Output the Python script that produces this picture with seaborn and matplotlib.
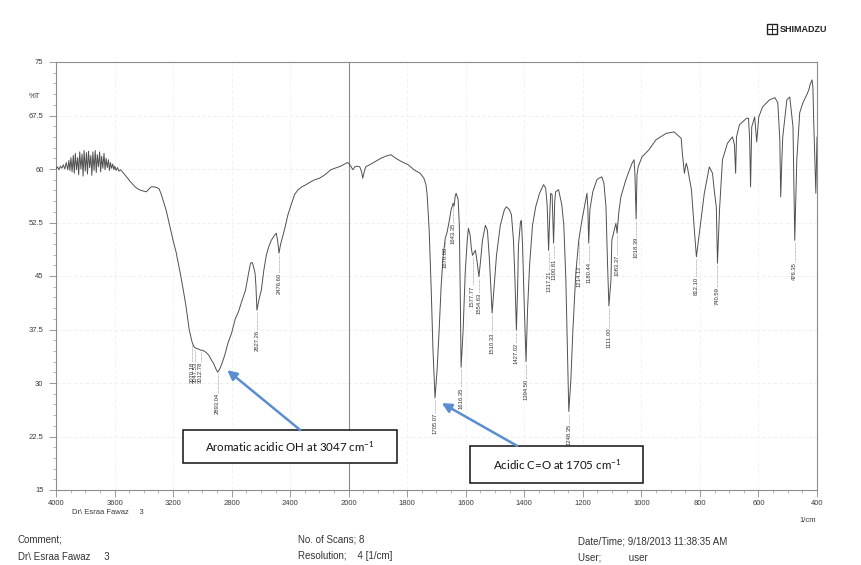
import numpy as np
import pandas as pd
import matplotlib
matplotlib.use("Agg")
import matplotlib.pyplot as plt
import seaborn as sns
from matplotlib.patches import Rectangle
from matplotlib.ticker import FixedLocator, MultipleLocator

# ---------------- data ----------------
wavenumber = [
    4000, 3990, 3980, 3970, 3960, 3950, 3940, 3930, 3920, 3912, 3905, 3898, 3890, 3882,
    3875, 3868, 3860, 3852, 3845, 3838, 3830, 3822, 3815, 3808, 3800, 3792, 3785, 3778,
    3770, 3762, 3755, 3748, 3740, 3732, 3725, 3718, 3710, 3702, 3695, 3688, 3680, 3672,
    3665, 3658, 3650, 3642, 3635, 3628, 3620, 3612, 3605, 3598, 3590, 3580, 3570, 3560,
    3546, 3530, 3510, 3495, 3478, 3460, 3440, 3420, 3400, 3383, 3365, 3349, 3330, 3310,
    3295, 3280, 3265, 3247, 3220, 3200, 3180, 3150, 3130, 3112, 3090, 3071, 3058, 3047,
    3030, 3012, 3003, 2990, 2975, 2956, 2940, 2922, 2908, 2895, 2880, 2865, 2847, 2825,
    2800, 2775, 2753, 2730, 2705, 2685, 2671, 2660, 2651, 2640, 2634, 2627, 2612, 2597,
    2580, 2563, 2545, 2529, 2510, 2495, 2486, 2476, 2466, 2454, 2434, 2415, 2393, 2370,
    2346, 2320, 2292, 2260, 2231, 2200, 2176, 2150, 2122, 2095, 2068, 2045, 2027, 2010,
    2000, 1993, 1986, 1979, 1973, 1962, 1956, 1952, 1947, 1942, 1928, 1911, 1890, 1873,
    1856, 1839, 1818, 1797, 1777, 1756, 1743, 1736, 1732, 1725, 1718, 1712, 1705, 1698,
    1691, 1684, 1677, 1670, 1664, 1657, 1650, 1643, 1640, 1636, 1633, 1626, 1622, 1619,
    1616, 1609, 1602, 1595, 1591, 1585, 1581, 1577, 1567, 1561, 1555, 1550, 1543, 1533,
    1526, 1519, 1510, 1504, 1495, 1482, 1468, 1461, 1451, 1444, 1437, 1432, 1427, 1423,
    1420, 1413, 1410, 1406, 1401, 1394, 1389, 1382, 1372, 1361, 1348, 1334, 1327, 1322,
    1317, 1313, 1310, 1305, 1300, 1296, 1293, 1283, 1272, 1265, 1258, 1252, 1248, 1241,
    1234, 1224, 1214, 1204, 1193, 1186, 1183, 1180, 1176, 1166, 1152, 1145, 1135, 1128,
    1121, 1116, 1111, 1104, 1101, 1087, 1083, 1077, 1070, 1053, 1032, 1025, 1022, 1018,
    1015, 1011, 998, 974, 950, 915, 888, 864, 860, 853, 847, 843, 829, 819,
    812, 802, 785, 768, 757, 750, 744, 740, 733, 723, 706, 689, 682, 678,
    675, 665, 641, 634, 630, 627, 623, 613, 606, 599, 586, 562, 544, 534,
    527, 524, 520, 517, 503, 493, 482, 476, 469, 459, 448, 435, 428, 424,
    417, 414, 411, 404, 400,
]
transmittance = [
    60.0, 60.3, 59.9, 60.4, 60.1, 60.6, 60.0, 60.9, 59.9, 61.2, 59.8, 61.6, 59.6, 61.9,
    59.4, 62.2, 59.9, 61.6, 59.2, 62.4, 60.0, 62.1, 59.0, 62.6, 59.7, 62.3, 59.3, 62.5,
    60.2, 61.9, 59.1, 62.4, 59.8, 62.6, 59.5, 62.0, 60.3, 62.4, 59.6, 61.8, 60.1, 62.2,
    59.9, 61.5, 60.2, 61.3, 59.8, 60.9, 60.1, 60.7, 59.9, 60.4, 59.8, 60.2, 59.7, 59.9,
    59.6, 59.2, 58.7, 58.3, 57.9, 57.5, 57.2, 57.0, 56.9, 56.8, 57.2, 57.5, 57.5, 57.4,
    57.2, 56.4, 55.4, 54.2, 51.8, 50.0, 48.4, 45.3, 43.0, 40.8, 37.5, 35.8, 35.1, 34.9,
    34.8, 34.6, 34.6, 34.5, 34.3, 33.9, 33.3, 32.7, 32.0, 31.5, 32.0, 32.8, 33.9, 35.6,
    37.0, 39.0, 40.0, 41.5, 43.0, 45.3, 46.8, 46.9, 46.4, 45.4, 43.7, 40.2, 41.8, 43.0,
    45.8, 47.9, 49.2, 50.0, 50.6, 51.0, 50.0, 48.2, 49.4, 50.3, 51.9, 53.6, 55.0, 56.4,
    57.1, 57.5, 57.8, 58.2, 58.5, 58.7, 59.0, 59.4, 59.9, 60.1, 60.3, 60.5, 60.7, 60.9,
    60.8, 60.4, 59.9, 60.3, 60.4, 60.3, 59.6, 58.7, 59.6, 60.3, 60.6, 61.0, 61.5, 61.8,
    62.0, 61.5, 61.0, 60.6, 59.9, 59.4, 58.7, 57.8, 56.4, 51.4, 43.0, 34.6, 27.9, 31.8,
    37.4, 43.7, 47.9, 50.3, 51.1, 52.6, 54.3, 55.2, 54.8, 56.2, 56.6, 55.7, 52.1, 43.0,
    32.2, 37.4, 45.4, 50.0, 51.7, 50.7, 48.9, 47.9, 48.6, 46.9, 44.9, 46.9, 50.0, 52.1,
    51.4, 47.2, 39.8, 43.0, 47.9, 52.1, 54.3, 54.7, 54.3, 53.6, 50.0, 44.5, 37.4, 43.0,
    49.3, 52.6, 52.8, 49.3, 42.0, 33.0, 40.2, 46.5, 52.1, 54.7, 56.6, 57.8, 57.3, 55.0,
    48.6, 53.6, 56.6, 56.4, 49.6, 55.5, 56.8, 57.1, 55.0, 52.1, 44.4, 33.2, 26.0, 30.4,
    37.4, 45.4, 50.0, 52.6, 55.0, 56.6, 54.5, 49.6, 54.3, 56.8, 58.5, 58.7, 58.9, 58.0,
    54.7, 47.2, 40.8, 44.4, 50.0, 52.4, 51.0, 54.0, 56.1, 58.5, 60.8, 61.3, 59.2, 53.0,
    59.2, 60.3, 61.7, 62.7, 64.1, 65.0, 65.2, 64.3, 62.2, 59.4, 60.8, 60.3, 57.1, 51.4,
    47.7, 51.0, 56.6, 60.3, 59.4, 56.6, 54.7, 46.8, 54.3, 61.3, 63.6, 64.5, 63.4, 59.4,
    64.5, 66.2, 67.1, 67.1, 64.1, 57.5, 65.9, 67.3, 63.8, 67.3, 68.7, 69.7, 70.0, 69.3,
    64.1, 56.1, 61.3, 64.5, 69.7, 70.1, 65.9, 50.0, 61.3, 67.9, 69.3, 70.4, 71.1, 71.8,
    72.5, 71.5, 66.4, 56.6, 64.5,
]

# peak labels: position, printed value, and the %T where the printed label starts
peak_wavenumber = [3071, 3047, 3012, 2895, 2627, 2476, 1705, 1670, 1643, 1616, 1577,
                   1555, 1510, 1427, 1394, 1317, 1300, 1248, 1214, 1180, 1111, 1083,
                   1018, 812, 740, 476]
peak_T = [35.8, 34.9, 34.6, 31.5, 40.2, 48.2, 27.9, 50.3, 55.2, 32.2, 47.9,
          44.9, 39.8, 37.4, 33.0, 48.6, 49.6, 26.0, 50.0, 49.6, 40.8, 51.0,
          53.0, 47.7, 46.8, 50.0]
peak_text = ["3070.18", "3047.53", "3012.78", "2893.04", "2627.26", "2476.60",
             "1705.07", "1670.68", "1643.35", "1616.35", "1577.77", "1554.63",
             "1510.33", "1427.02", "1394.50", "1317.21", "1300.81", "1248.35",
             "1214.12", "1180.44", "1111.00", "1083.37", "1018.39", "812.10",
             "740.59", "476.35"]
label_top_T = [33.0, 33.0, 33.0, 28.6, 37.4, 45.4, 25.8, 49.1, 52.4, 29.4, 43.7,
               42.6, 37.1, 35.6, 30.6, 45.8, 47.5, 24.3, 46.5, 47.0, 37.8, 48.0,
               50.5, 44.9, 43.5, 47.0]

y_ticks = [75, 67.5, 60, 52.5, 45, 37.5, 30, 22.5, 15]
y_tick_labels = ["75", "67.5", "60", "52.5", "45", "37.5", "30", "22.5", "15"]
x_ticks = [4000, 3600, 3200, 2800, 2400, 2000, 1800, 1600, 1400, 1200, 1000, 800, 600, 400]
x_tick_labels = [str(v) for v in x_ticks]

# ---------------- style ----------------
sns.set_style("white")
plt.rcParams['font.family'] = ['Liberation Sans', 'DejaVu Sans']
plt.rcParams['mathtext.fontset'] = 'custom'
plt.rcParams['mathtext.rm'] = 'Lato'
plt.rcParams['mathtext.it'] = 'Lato:italic'
plt.rcParams['mathtext.bf'] = 'Lato:bold'

W, H = 861, 565
fig = plt.figure(figsize=(W / 100, H / 100), dpi=100)
fig.patch.set_facecolor("white")
ax = fig.add_axes([56 / W, 75 / H, 761 / W, 428 / H])

df = pd.DataFrame({"wavenumber": wavenumber, "T": transmittance})
sns.lineplot(data=df, x="wavenumber", y="T", sort=False, estimator=None,
             color="#505050", lw=0.7, ax=ax, zorder=3)


def fwd(x):
    x = np.asarray(x, dtype=float)
    return np.where(x > 2000, 2000 + (x - 2000) / 2.0, x)


def inv(y):
    y = np.asarray(y, dtype=float)
    return np.where(y > 2000, 2000 + 2.0 * (y - 2000), y)


ax.set_xscale('function', functions=(fwd, inv))
ax.set_xlim(4000, 400)
ax.set_ylim(15, 75)
ax.set_xlabel("")
ax.set_ylabel("")

ax.set_xticks(x_ticks)
ax.set_xticklabels(x_tick_labels)
ax.xaxis.set_minor_locator(FixedLocator(list(range(4000, 2000, -100)) + list(range(2000, 399, -50))))
ax.set_yticks(y_ticks)
ax.set_yticklabels(y_tick_labels)
ax.yaxis.set_minor_locator(MultipleLocator(1.5))
ax.tick_params(axis='both', which='major', labelsize=5.5, colors='#888888',
               labelcolor='#3a3a3a', length=5, width=0.6, direction='out')
ax.tick_params(axis='both', which='minor', colors='#999999', length=2.5, width=0.5,
               direction='out')
ax.tick_params(axis='x', which='both', bottom=True, pad=2)
ax.tick_params(axis='y', which='both', left=True, pad=4)

for s in ax.spines.values():
    s.set_color('#8c8c8c')
    s.set_linewidth(0.8)

# faint paper grid
for yv in y_ticks[1:-1]:
    ax.axhline(yv, color='#ececec', lw=0.6, ls=(0, (4, 3)), zorder=1)
for xv in x_ticks[1:-1]:
    if xv != 2000:
        ax.axvline(xv, color='#f0f0f0', lw=0.6, ls=(0, (4, 3)), zorder=1)
ax.axvline(2000, color='#8a8a8a', lw=0.8, zorder=2)

# peak labels
for nu, pt, txt, lt in zip(peak_wavenumber, peak_T, peak_text, label_top_T):
    ax.plot([nu, nu], [pt - 0.3, lt], color='#7a7a7a', lw=0.4, ls=(0, (1.5, 1)), zorder=3)
    ax.text(nu, lt, txt, rotation=90, ha='center', va='top', fontsize=4.2,
            color='#333333', zorder=4)

# annotation boxes and arrows
ax.add_patch(Rectangle((0.167, 0.063), 0.281, 0.077, transform=ax.transAxes,
                       fc='white', ec='#111111', lw=1.1, zorder=6, clip_on=False))
ax.text(0.307, 0.100, "Aromatic acidic OH at 3047 cm$^{-1}$", transform=ax.transAxes,
        ha='center', va='center', fontsize=8.3, family=['Lato', 'DejaVu Sans'],
        color='#111111', zorder=7)
ax.add_patch(Rectangle((0.544, 0.016), 0.227, 0.087, transform=ax.transAxes,
                       fc='white', ec='#111111', lw=1.1, zorder=6, clip_on=False))
ax.text(0.658, 0.058, "Acidic C=O at 1705 cm$^{-1}$", transform=ax.transAxes,
        ha='center', va='center', fontsize=8.3, family=['Lato', 'DejaVu Sans'],
        color='#111111', zorder=7)

arrow_color = '#5b8ed0'
ax.annotate("", xy=(0.225, 0.280), xytext=(0.321, 0.140), xycoords='axes fraction',
            textcoords='axes fraction',
            arrowprops=dict(arrowstyle='-|>', color=arrow_color, lw=1.8, mutation_scale=14,
                            shrinkA=0, shrinkB=0), zorder=8)
ax.annotate("", xy=(0.507, 0.203), xytext=(0.606, 0.103), xycoords='axes fraction',
            textcoords='axes fraction',
            arrowprops=dict(arrowstyle='-|>', color=arrow_color, lw=1.8, mutation_scale=14,
                            shrinkA=0, shrinkB=0), zorder=8)

# axis annotations
fig.text(34 / W, 1 - 97 / H, "%T", fontsize=5.5, ha='center', va='center', color='#3a3a3a')
fig.text(808 / W, 1 - 521 / H, "1/cm", fontsize=5.5, ha='center', va='center', color='#3a3a3a')
fig.text(72 / W, 1 - 513 / H, "Dr\\ Esraa Fawaz     3", fontsize=5.5, ha='left',
         va='center', color='#3a3a3a')

# footer
footer_kw = dict(fontsize=7, ha='left', va='center', color='#333333')
fig.text(18 / W, 1 - 540 / H, "Comment;", **footer_kw)
fig.text(18 / W, 1 - 557 / H, "Dr\\ Esraa Fawaz     3", **footer_kw)
fig.text(298 / W, 1 - 540 / H, "No. of Scans; 8", **footer_kw)
fig.text(298 / W, 1 - 556 / H, "Resolution;    4 [1/cm]", **footer_kw)
fig.text(578 / W, 1 - 541 / H, "Date/Time; 9/18/2013 11:38:35 AM", **footer_kw)
fig.text(578 / W, 1 - 557 / H, "User;          user", **footer_kw)

# logo
fig.patches.append(Rectangle((767 / W, 1 - 34 / H), 10 / W, 10 / H, transform=fig.transFigure,
                             fill=False, ec='#222222', lw=1.0))
fig.lines.append(plt.Line2D([772 / W, 772 / W], [1 - 33 / H, 1 - 25 / H],
                            transform=fig.transFigure, color='#222222', lw=0.7))
fig.lines.append(plt.Line2D([768 / W, 776 / W], [1 - 29 / H, 1 - 29 / H],
                            transform=fig.transFigure, color='#222222', lw=0.7))
fig.text(780 / W, 1 - 29 / H, "SHIMADZU", fontsize=6.5, fontweight='bold', ha='left',
         va='center', color='#222222')

fig.savefig("out.png", dpi=100, facecolor='white')
